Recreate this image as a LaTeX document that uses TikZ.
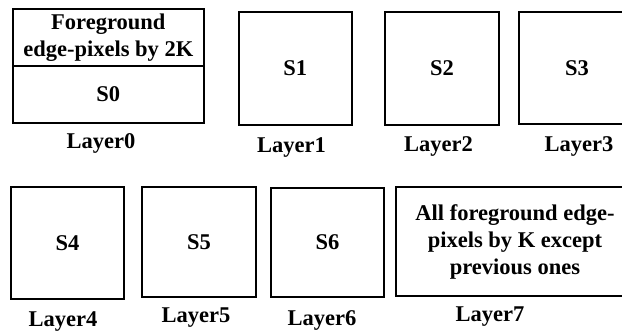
\documentclass[tikz,border=0pt]{standalone}
\usepackage{fontspec}
\setmainfont{Liberation Serif}
\usetikzlibrary{positioning}
\tikzset{
  layerbox/.style={
    rectangle, draw=black, line width=1.8pt, fill=white,
    minimum width=113pt, minimum height=113pt,
    inner sep=0pt, outer sep=0pt, align=center,
    font=\fontsize{22.5}{27}\selectfont\bfseries
  },
  layername/.style={
    inner sep=0pt, anchor=base,
    font=\fontsize{22.5}{27}\selectfont\bfseries
  }
}

\begin{document}
\begin{tikzpicture}[x=1pt, y=-1pt]
  \useasboundingbox (0,0) rectangle (622,334);
  % first row
  \node[layerbox, minimum width=191pt, minimum height=56.4pt] (s0top)
    at (108.3,37.5) {Foreground\\edge-pixels by 2K};
  \node[layerbox, minimum width=191pt, minimum height=57pt,
        below=0pt of s0top] (s0) {S0};
  \node[layerbox] (s1) at (295.2,68.3) {S1};
  \node[layerbox, minimum width=114pt] (s2) at (442,68.5) {S2};
  \node[layerbox, minimum width=116pt, minimum height=112pt] (s3)
    at (577,68) {S3};
  % second row
  \node[layerbox, minimum height=112pt] (s4) at (67.5,242.8) {S4};
  \node[layerbox, minimum width=114pt, minimum height=110pt] (s5)
    at (199,242) {S5};
  \node[layerbox, minimum height=109pt] (s6) at (327.5,242.5) {S6};
  \node[layerbox, minimum width=238pt, minimum height=109pt] (s7)
    at (515,241.5)
    {All foreground edge-\\pixels by K except\\previous ones};
  % layer names
  \node[layername] (l0) at (101,149) {Layer0};
  \node[layername] (l1) at (291.5,153) {Layer1};
  \node[layername] (l2) at (438.5,151.7) {Layer2};
  \node[layername] (l3) at (579,151.7) {Layer3};
  \node[layername] (l4) at (63,326.7) {Layer4};
  \node[layername] (l5) at (196,323) {Layer5};
  \node[layername] (l6) at (322,326) {Layer6};
  \node[layername] (l7) at (490,321.7) {Layer7};
\end{tikzpicture}
\end{document}
